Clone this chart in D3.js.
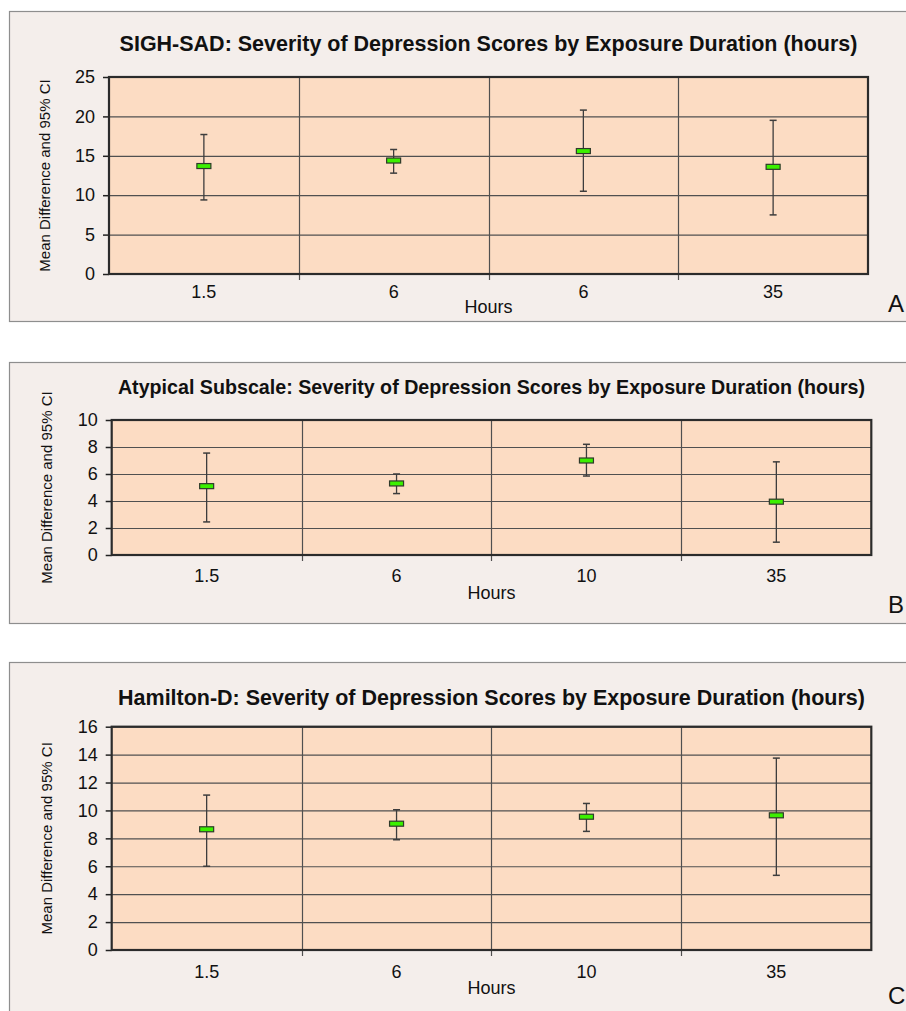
<!DOCTYPE html>
<html><head><meta charset="utf-8">
<script src="https://cdn.jsdelivr.net/npm/d3@7"></script>
<style>
html,body{margin:0;padding:0;background:#fff;}
svg{display:block;font-family:"Liberation Sans",Arial,sans-serif;}
</style></head>
<body>
<svg id="c" width="906" height="1011"></svg>
<script>
// ---- data ----
const titles = [
  "SIGH-SAD: Severity of Depression Scores by Exposure Duration (hours)",
  "Atypical Subscale: Severity of Depression Scores by Exposure Duration (hours)",
  "Hamilton-D: Severity of Depression Scores by Exposure Duration (hours)"
];
const panelLetters = ["A","B","C"];
const catsA = ["1.5","6","6","35"];
const catsB = ["1.5","6","10","35"];
const catsC = ["1.5","6","10","35"];
const meanA = [13.7,14.4,15.6,13.6];
const lowA  = [9.4,12.8,10.5,7.5];
const highA = [17.7,15.8,20.8,19.5];
const meanB = [5.1,5.3,7.0,3.95];
const lowB  = [2.45,4.55,5.85,0.95];
const highB = [7.55,6.0,8.2,6.9];
const meanC = [8.65,9.05,9.55,9.65];
const lowC  = [6.0,7.9,8.5,5.35];
const highC = [11.1,10.05,10.5,13.75];
const yMaxes = [25,10,16];
const ySteps = [5,2,2];
const xTitle = "Hours";
const yTitle = "Mean Difference and 95% CI";

// ---- layout ----
const layout = [
  {fy:11, fb:321, l:109, r:868, t:77, b:274, ty:43, tw:738, xl:292, hy:307, ly:312, lx:888, yl:45},
  {fy:362, fb:623, l:111.7, r:871.3, t:420, b:555, ty:387, tw:748, xl:576, hy:593, ly:613, lx:888, yl:47},
  {fy:662, fb:1030, l:111.7, r:871.3, t:726.7, b:950, ty:697, tw:747, xl:972, hy:988, ly:1004, lx:888, yl:47}
];
const cats = [catsA,catsB,catsC];
const means = [meanA,meanB,meanC];
const lows = [lowA,lowB,lowC];
const highs = [highA,highB,highC];

const svg = d3.select("#c");
const gridCol = "#505050";
const FF = "Liberation Sans, Arial, sans-serif";

layout.forEach((L,p)=>{
  const g = svg.append("g");
  g.append("rect").attr("x",9.5).attr("y",L.fy+0.5).attr("width",1000).attr("height",L.fb-L.fy)
    .attr("fill","#f4eeeb").attr("stroke","#8e8e8e").attr("stroke-width",1.2);

  const idx = d3.range(cats[p].length);
  const x = d3.scaleBand().domain(idx).range([L.l,L.r]).padding(0);
  const ticks = d3.range(0, yMaxes[p]+0.001, ySteps[p]);
  const y = d3.scaleLinear().domain([0,yMaxes[p]]).range([L.b,L.t]);

  g.append("rect").attr("x",L.l).attr("y",L.t).attr("width",L.r-L.l).attr("height",L.b-L.t)
    .attr("fill","#fcdcc3");

  // horizontal gridlines
  const gy = g.append("g").attr("transform",`translate(${L.l},0)`)
    .call(d3.axisLeft(y).tickValues(ticks).tickSize(-(L.r-L.l)).tickFormat(""));
  gy.select(".domain").remove();
  gy.selectAll("line").attr("stroke",gridCol).attr("stroke-width",1.2);

  // vertical gridlines at category boundaries
  const bounds = idx.slice(1).map(i=>x(i));
  g.selectAll(".vg").data(bounds).join("line")
    .attr("x1",d=>Math.round(d)+0.5).attr("x2",d=>Math.round(d)+0.5)
    .attr("y1",L.t).attr("y2",L.b+6).attr("stroke",gridCol).attr("stroke-width",1.2);

  // y axis ticks and labels
  const ya = g.append("g").attr("transform",`translate(${L.l},0)`)
    .call(d3.axisLeft(y).tickValues(ticks).tickSize(6).tickPadding(8).tickFormat(d3.format("d")));
  ya.select(".domain").remove();
  ya.selectAll("line").attr("stroke","#222").attr("stroke-width",1.5);
  ya.selectAll("text").attr("font-size",18).attr("fill","#111").attr("font-family",FF);

  // x labels
  const xa = g.append("g").attr("transform",`translate(0,${L.b})`)
    .call(d3.axisBottom(x).tickSize(0).tickPadding(0).tickFormat(i=>cats[p][i]));
  xa.select(".domain").remove();
  xa.selectAll("text").attr("font-size",18).attr("fill","#111").attr("font-family",FF)
    .attr("y",L.xl-L.b).attr("dy","0.35em");

  // plot border
  g.append("rect").attr("x",L.l).attr("y",L.t).attr("width",L.r-L.l).attr("height",L.b-L.t)
    .attr("fill","none").attr("stroke","#2b2b2b").attr("stroke-width",2.2);

  // error bars
  const cx = i=>x(i)+x.bandwidth()/2;
  const eb = g.append("g");
  idx.forEach(i=>{
    eb.append("line").attr("x1",cx(i)).attr("x2",cx(i)).attr("y1",y(highs[p][i])).attr("y2",y(lows[p][i]))
      .attr("stroke","#3d3d3d").attr("stroke-width",1.3);
    [highs[p][i],lows[p][i]].forEach(v=>{
      eb.append("line").attr("x1",cx(i)-3.5).attr("x2",cx(i)+3.5).attr("y1",y(v)).attr("y2",y(v))
        .attr("stroke","#3d3d3d").attr("stroke-width",1.5);
    });
    eb.append("rect").attr("x",cx(i)-7).attr("y",y(means[p][i])-2.5).attr("width",14).attr("height",5)
      .attr("fill","#3cf000").attr("stroke","#2e3a2a").attr("stroke-width",1.2);
  });

  // title
  const t = g.append("text").attr("x",(L.l+L.r)/2).attr("y",L.ty).attr("dy","0.35em")
    .attr("text-anchor","middle").attr("font-weight","bold").attr("font-size",17).attr("fill","#111")
    .text(titles[p]);
  const w = t.node().getComputedTextLength();
  t.attr("font-size", 17*L.tw/w);

  // axis titles
  g.append("text").attr("x",(L.l+L.r)/2).attr("y",L.hy).attr("dy","0.35em").attr("text-anchor","middle")
    .attr("font-size",18).attr("fill","#111").text(xTitle);
  g.append("text").attr("transform",`translate(${L.yl},${(L.t+L.b)/2}) rotate(-90)`).attr("dy","0.35em")
    .attr("text-anchor","middle").attr("font-size",15).attr("fill","#111").text(yTitle);

  // panel letter
  g.append("text").attr("x",L.lx).attr("y",L.ly).attr("font-size",24).attr("fill","#111").text(panelLetters[p]);
});
</script>
</body></html>
